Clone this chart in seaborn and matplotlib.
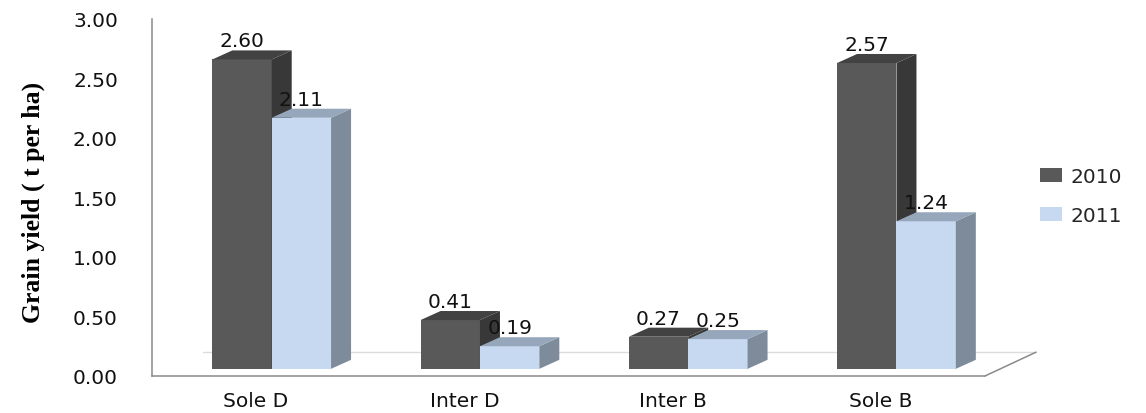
import numpy as np
import pandas as pd
import seaborn as sns
import matplotlib.pyplot as plt
from matplotlib.patches import Polygon

# Grain yield by cropping system and season
categories = ["Sole D", "Inter D", "Inter B", "Sole B"]
years = ["2010", "2011"]
yield_2010 = [2.60, 0.41, 0.27, 2.57]
yield_2011 = [2.11, 0.19, 0.25, 1.24]
y_ticks = [0.0, 0.5, 1.0, 1.5, 2.0, 2.5, 3.0]

df = pd.DataFrame({
    "Treatment": categories * 2,
    "Year": [years[0]] * len(categories) + [years[1]] * len(categories),
    "Yield": yield_2010 + yield_2011,
})

sns.set_style("white")
plt.rcParams["font.family"] = ["DejaVu Sans"]

front = {"2010": "#595959", "2011": "#c6d9f1"}
side = {"2010": "#383838", "2011": "#7e8b9b"}
top = {"2010": "#424242", "2011": "#97a7bb"}

fs = 14.5

fig = plt.figure(figsize=(11.46, 4.14), dpi=100)
ax = fig.add_axes([0.1326, 0.0894, 0.7269, 0.8623])

sns.barplot(data=df, x="Treatment", y="Yield", hue="Year", order=categories,
            hue_order=years, palette=front, width=0.57, saturation=1,
            linewidth=0, errorbar=None, ax=ax)

# pseudo-3D extrusion of each bar
shift = 0.075      # perspective shift of the bar group
base = 0.06        # front face lifted off the floor
dx, dy = 0.096, 0.076
for k, (cont, yr) in enumerate(zip(ax.containers, years)):
    z = 2 + k
    for bar in cont:
        x0 = bar.get_x() + shift
        w = bar.get_width()
        h = bar.get_height()
        bar.set_x(x0)
        bar.set_y(base)
        bar.set_zorder(z)
        ax.add_patch(Polygon([(x0 + w, base), (x0 + w + dx, base + dy),
                              (x0 + w + dx, base + h + dy), (x0 + w, base + h)],
                             closed=True, facecolor=side[yr], edgecolor="none", zorder=z))
        ax.add_patch(Polygon([(x0, base + h), (x0 + dx, base + h + dy),
                              (x0 + w + dx, base + h + dy), (x0 + w, base + h)],
                             closed=True, facecolor=top[yr], edgecolor="none", zorder=z))
        ax.annotate(f"{h:.2f}", (x0 + w / 2, base + h + dy), xytext=(0, 0),
                    textcoords="offset points", ha="center", va="bottom",
                    fontsize=fs, color="#111111", zorder=6)

# floor of the 3D box
fdx, fdy = 0.245, 0.2
ax.plot([-0.5 + fdx, 3.5 + fdx], [fdy, fdy], color="#dcdcdc", lw=1, zorder=0.5, clip_on=False)
ax.plot([3.5, 3.5 + fdx], [0, fdy], color="#8a8a8a", lw=1.1, zorder=1, clip_on=False)

ax.set_xlim(-0.5, 3.5)
ax.set_ylim(0, 3.0)
ax.set_yticks(y_ticks)
ax.set_yticklabels([f"{t:.2f}" for t in y_ticks])
ax.set_xticks(range(len(categories)))
ax.set_xticklabels(categories)
ax.set_xticks([0.5, 1.5, 2.5, 3.5], minor=True)
ax.tick_params(axis="x", which="major", length=0, pad=11, labelsize=fs, labelcolor="#111111")
ax.tick_params(axis="x", which="minor", length=5, width=1.1, color="#8a8a8a", direction="out")
ax.tick_params(axis="y", which="major", length=8.5, width=1.1, color="#8a8a8a",
               direction="out", pad=16, labelsize=fs, labelcolor="#111111")

for s in ["top", "right"]:
    ax.spines[s].set_visible(False)
for s in ["left", "bottom"]:
    ax.spines[s].set_color("#8a8a8a")
    ax.spines[s].set_linewidth(1.1)

ax.set_xlabel("")
ax.set_ylabel("Grain yield ( t per ha)", family="Liberation Serif", fontweight="bold",
              fontsize=18.5, color="black")
ax.yaxis.set_label_coords(-0.128, 0.49)

handles, labels = ax.get_legend_handles_labels()
ax.legend(handles, labels, loc="center left", bbox_to_anchor=(1022 / 1146, 1 - 197 / 414),
          bbox_transform=fig.transFigure, frameon=False, fontsize=fs,
          handlelength=1.1, handleheight=0.7, handletextpad=0.4, labelspacing=1.0)

fig.savefig("out.png", dpi=100)
